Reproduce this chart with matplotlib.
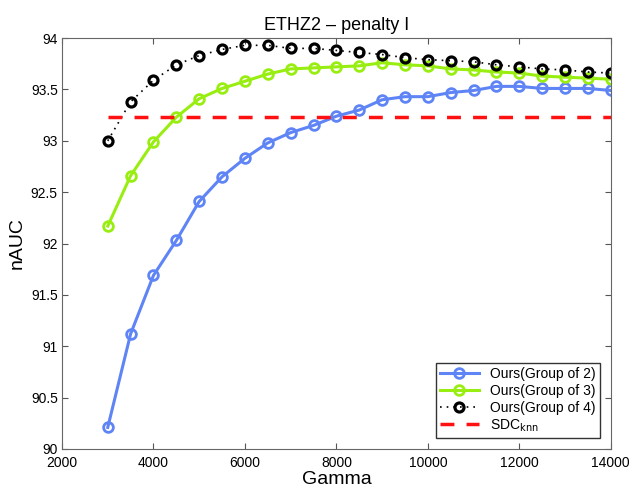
import matplotlib
matplotlib.use('Agg')
import matplotlib.pyplot as plt

plt.rcParams['font.family'] = ['Liberation Sans', 'DejaVu Sans']

# Data
gamma = [3000, 3500, 4000, 4500, 5000, 5500, 6000, 6500, 7000, 7500, 8000, 8500,
         9000, 9500, 10000, 10500, 11000, 11500, 12000, 12500, 13000, 13500, 14000]
group2 = [90.21, 91.12, 91.69, 92.03, 92.41, 92.65, 92.83, 92.98, 93.08, 93.15, 93.24, 93.30,
          93.40, 93.43, 93.43, 93.47, 93.49, 93.53, 93.53, 93.51, 93.51, 93.51, 93.49]
group3 = [92.17, 92.66, 92.99, 93.23, 93.41, 93.51, 93.58, 93.65, 93.70, 93.71, 93.72, 93.73,
          93.76, 93.74, 93.73, 93.70, 93.69, 93.67, 93.66, 93.63, 93.62, 93.61, 93.60]
group4 = [93.00, 93.38, 93.59, 93.74, 93.83, 93.89, 93.93, 93.93, 93.90, 93.90, 93.88, 93.86,
          93.84, 93.81, 93.79, 93.78, 93.77, 93.74, 93.72, 93.70, 93.69, 93.67, 93.66]
sdc_knn = 93.23

# Plot
fig = plt.figure(figsize=(6.29, 4.95), dpi=100)
ax = fig.add_axes([0.0986, 0.093, 0.8724, 0.830])

ax.plot(gamma, group2, color='#5f84f5', lw=2.2, marker='o', ms=7, mfc='none',
        mew=2.0, label='Ours(Group of 2)')
ax.plot(gamma, group3, color='#99ee11', lw=2.2, marker='o', ms=7, mfc='none',
        mew=2.0, label='Ours(Group of 3)')
ax.plot(gamma, group4, color='black', lw=1.2, ls=(0, (1, 3)), marker='o', ms=6.5,
        mfc='none', mew=2.3, label='Ours(Group of 4)')
ax.plot([gamma[0], gamma[-1]], [sdc_knn, sdc_knn], color='#ff1111', lw=2.5,
        ls=(0, (4, 3.5)), label='SDC$_{\\mathrm{knn}}$')

ax.set_xlim(2000, 14000)
ax.set_ylim(90, 94)
ax.set_xticks(range(2000, 14001, 2000))
ax.set_yticks([90 + 0.5 * i for i in range(9)])
ax.set_yticklabels(['90', '90.5', '91', '91.5', '92', '92.5', '93', '93.5', '94'])
ax.tick_params(direction='in', length=4, labelsize=10, color='#555555', top=True, right=True,
               labeltop=False, labelright=False, pad=3)
ax.tick_params(axis='x', pad=5)
for s in ax.spines.values():
    s.set_color('#666666')

ax.set_title('ETHZ2 – penalty I', fontsize=13)
ax.set_xlabel('Gamma', fontsize=14, labelpad=1)
ax.set_ylabel('nAUC', fontsize=14, labelpad=4)

leg = ax.legend(loc='lower right', fontsize=10, fancybox=False, framealpha=1,
                edgecolor='#333333', handlelength=2.8, borderpad=0.3, labelspacing=0.2,
                borderaxespad=0.8)
leg.get_frame().set_linewidth(1.0)

fig.savefig('out.png', dpi=100)
